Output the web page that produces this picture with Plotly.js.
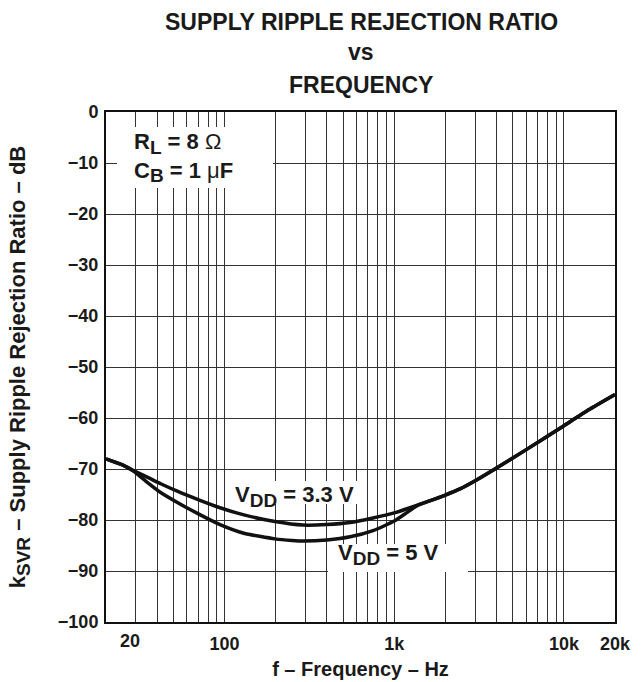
<!DOCTYPE html>
<html>
<head>
<meta charset="utf-8">
<script src="https://cdn.plot.ly/plotly-3.0.1.min.js"></script>
<style>
  html, body { margin: 0; padding: 0; background: #ffffff; }
  #chart { width: 643px; height: 682px; }
</style>
</head>
<body>
<div id="chart"></div>
<script>
// ---- data ----
const freq33 = [20, 25, 29, 35, 42, 53, 71, 94, 130, 198, 290, 400, 550, 750, 1000, 1290, 1600, 2000, 2440, 3000, 3920, 6000, 9900, 14000, 20000];
const ksvr33 = [-68, -69.2, -70.3, -71.6, -72.9, -74.4, -76.1, -77.6, -79.0, -80.3, -81.0, -80.9, -80.5, -79.6, -78.6, -77.4, -76.3, -75.1, -73.9, -72.3, -70.0, -66.2, -61.6, -58.4, -55.4];

const freq5 = [20, 25, 29, 35, 42, 53, 71, 94, 130, 198, 250, 290, 400, 550, 750, 1000, 1180, 1290, 1400, 1600, 2000, 2440, 3000, 3920, 6000, 9900, 14000, 20000];
const ksvr5 = [-68, -69.2, -70.4, -72.6, -74.6, -76.6, -78.9, -80.9, -82.6, -83.7, -84.0, -84.1, -83.9, -83.3, -82.1, -80.2, -78.6, -77.7, -77.0, -76.3, -75.1, -73.9, -72.3, -70.0, -66.2, -61.6, -58.4, -55.4];

const xTickVals = [100, 1000, 10000, 20000];
const xTickText = ["100", "1k", "10k", "20k"];
const xFirstLabel = "20";
const yTicks = [0, -10, -20, -30, -40, -50, -60, -70, -80, -90, -100];
const yTickText = ["0", "\u221210", "\u221220", "\u221230", "\u221240", "\u221250", "\u221260", "\u221270", "\u221280", "\u221290", "\u2212100"];

const FONT = "Liberation Sans, Arial, Helvetica, sans-serif";
const INK = "#1a1a1a";
const GRID = "#333333";
const lineStyle = {color: "#111111", width: 3.5, shape: "spline", smoothing: 0.5};

const traces = [
  {x: freq33, y: ksvr33, mode: "lines", line: lineStyle, name: "VDD = 3.3 V", hoverinfo: "skip"},
  {x: freq5, y: ksvr5, mode: "lines", line: lineStyle, name: "VDD = 5 V", hoverinfo: "skip"}
];

// helper: pixel -> paper coords (plot area 106..615 x, 112..622 y)
const PL = 106, PR = 615, PT = 112, PB = 622;
const px = v => (v - PL) / (PR - PL);
const py = v => (PB - v) / (PB - PT);

const whiteBox = (x0, y0, x1, y1) => ({
  type: "rect", xref: "paper", yref: "paper", layer: "above",
  x0: px(x0), x1: px(x1), y0: py(y1), y1: py(y0),
  fillcolor: "#ffffff", line: {width: 0}
});

const txt = (text, x, y, size, extra) => Object.assign({
  xref: "paper", yref: "paper", x: px(x), y: py(y), xanchor: "center", yanchor: "middle",
  text: text, showarrow: false, font: {family: FONT, size: size, color: INK}
}, extra || {});

const sub = (s, size) => "<sub><span style=\"font-size:" + size + "px\">" + s + "</span></sub>";

const layout = {
  width: 643, height: 682,
  margin: {l: PL, r: 643 - PR, t: PT, b: 682 - PB},
  paper_bgcolor: "#ffffff", plot_bgcolor: "#ffffff",
  showlegend: false,
  font: {family: FONT, color: INK, size: 18},
  xaxis: {
    type: "log",
    range: [Math.log10(20), Math.log10(20000)],
    tickmode: "array",
    tickvals: xTickVals,
    ticktext: xTickText.map(t => "<b>" + t + "</b>"),
    ticks: "", ticklabelstandoff: 4,
    showgrid: true, gridcolor: GRID, gridwidth: 1,
    minor: {dtick: "D1", showgrid: true, gridcolor: GRID, gridwidth: 1, ticks: ""},
    showline: true, linecolor: "#111111", linewidth: 2, mirror: true,
    zeroline: false,
    tickfont: {family: FONT, size: 18, color: INK},
    title: {text: "<b>f \u2013 Frequency \u2013 Hz</b>", font: {family: FONT, size: 20, color: INK}, standoff: 9}
  },
  yaxis: {
    range: [-100, 0],
    tickmode: "array",
    tickvals: yTicks,
    ticktext: yTickText.map(t => "<b>" + t + "</b>"),
    ticks: "", ticklabelstandoff: 2,
    showgrid: true, gridcolor: GRID, gridwidth: 1,
    showline: true, linecolor: "#111111", linewidth: 2, mirror: true,
    zeroline: false,
    tickfont: {family: FONT, size: 18, color: INK},
    title: {text: "<b>k" + sub("SVR", 19) + " \u2013 Supply Ripple Rejection Ratio \u2013 dB</b>", font: {family: FONT, size: 22, color: INK}, standoff: 26}
  },
  shapes: [
    whiteBox(117, 127, 273, 188),
    whiteBox(229, 481, 360, 504),
    whiteBox(328, 544, 468, 572)
  ],
  annotations: [
    txt("<b>SUPPLY RIPPLE REJECTION RATIO</b>", 361, 22, 23),
    txt("<b>vs</b>", 361, 52, 23),
    txt("<b>FREQUENCY</b>", 361, 85, 23),
    txt("<b>" + xFirstLabel + "</b>", 130, 641, 18),
    txt("<b>R" + sub("L", 19) + " = 8 </b>\u03A9<br><b>C" + sub("B", 19) + " = 1 </b>\u03BC<b>F</b>", 132, 157, 22, {xanchor: "left", align: "left"}),
    txt("<b>V" + sub("DD", 19) + " = 3.3 V</b>", 294, 496, 22),
    txt("<b>V" + sub("DD", 19) + " = 5 V</b>", 388, 554, 22)
  ]
};

Plotly.newPlot("chart", traces, layout, {staticPlot: true, displayModeBar: false});
</script>
</body>
</html>
